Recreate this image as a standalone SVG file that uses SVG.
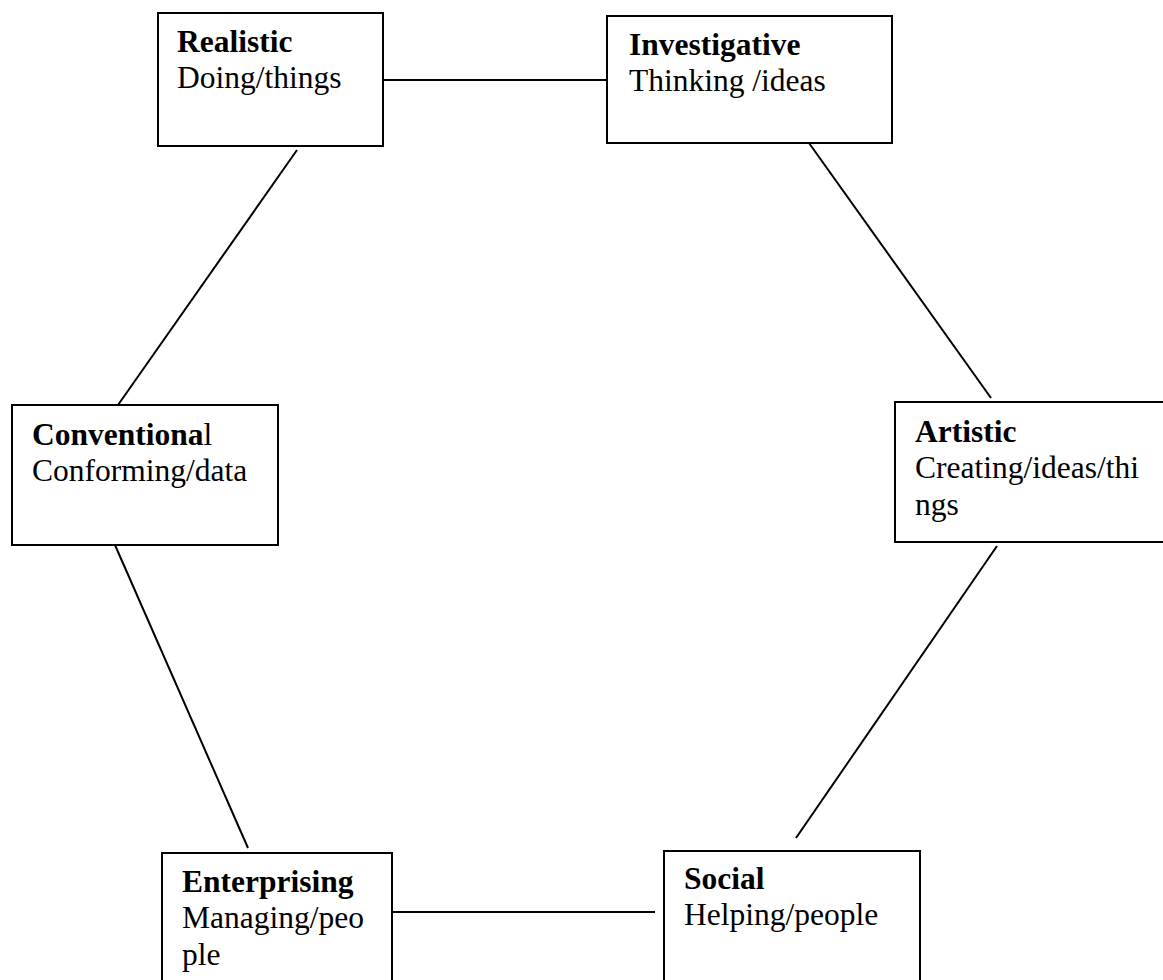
<svg xmlns="http://www.w3.org/2000/svg" width="1163" height="980" viewBox="0 0 1163 980">
<style>
.box{fill:#fff;stroke:#000;stroke-width:2}
.ln{stroke:#000;stroke-width:2;fill:none}
text{font-family:"Liberation Serif","Times New Roman",serif;font-size:31.5px;fill:#000}
.b{font-weight:bold}
</style>
<rect width="1163" height="980" fill="#fff"/>
<g id="connectors">
<line class="ln" x1="383" y1="80" x2="607" y2="80"/>
<line class="ln" x1="297" y1="150" x2="118" y2="405"/>
<line class="ln" x1="809" y1="143" x2="991" y2="398"/>
<line class="ln" x1="997" y1="546" x2="796" y2="838"/>
<line class="ln" x1="115" y1="545" x2="248" y2="848"/>
<line class="ln" x1="392" y1="912" x2="655" y2="912"/>
</g>
<g id="realistic">
<rect class="box" x="158" y="13" width="225" height="133"/>
<text x="177" y="52" class="b">Realistic</text>
<text x="177" y="88">Doing/things</text>
</g>
<g id="investigative">
<rect class="box" x="607" y="16" width="285" height="127"/>
<text x="629" y="55" class="b">Investigative</text>
<text x="629" y="91">Thinking /ideas</text>
</g>
<g id="conventional">
<rect class="box" x="12" y="405" width="266" height="140"/>
<text x="32" y="445"><tspan class="b">Conventiona</tspan>l</text>
<text x="32" y="481">Conforming/data</text>
</g>
<g id="artistic">
<rect class="box" x="895" y="402" width="280" height="140"/>
<text x="915" y="442" class="b">Artistic</text>
<text x="915" y="478">Creating/ideas/thi</text>
<text x="915" y="515">ngs</text>
</g>
<g id="enterprising">
<rect class="box" x="162" y="853" width="230" height="140"/>
<text x="182" y="892" class="b">Enterprising</text>
<text x="182" y="928">Managing/peo</text>
<text x="182" y="965">ple</text>
</g>
<g id="social">
<rect class="box" x="664" y="851" width="256" height="140"/>
<text x="684" y="889" class="b">Social</text>
<text x="684" y="925">Helping/people</text>
</g>
</svg>
